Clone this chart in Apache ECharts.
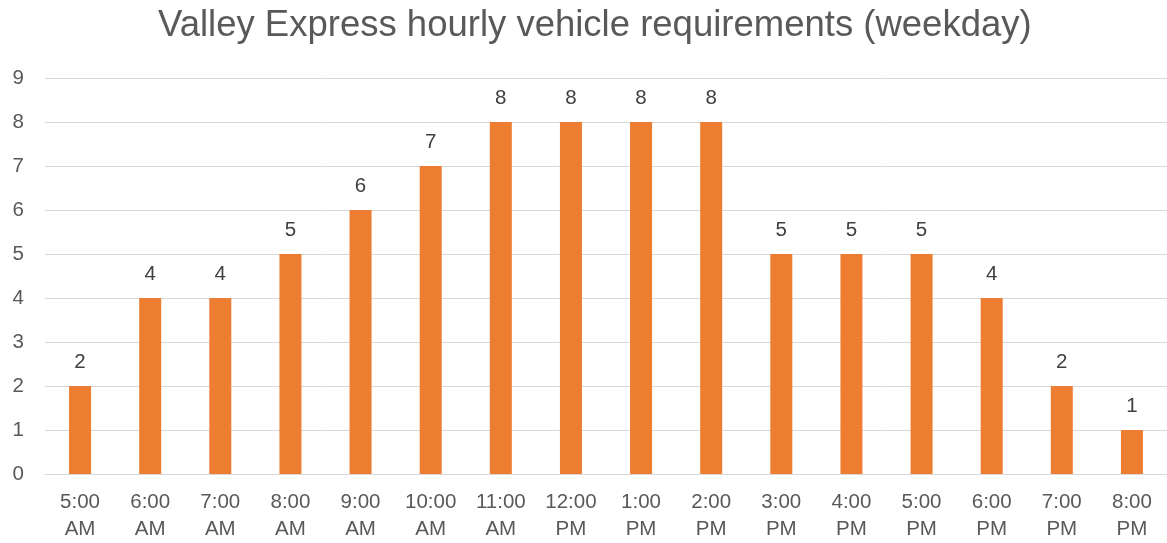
<!DOCTYPE html>
<html>
<head>
<meta charset="utf-8">
<script src="https://cdn.jsdelivr.net/npm/echarts@6/dist/echarts.min.js"></script>
<style>
  html, body { margin: 0; padding: 0; background: #fff; }
  #chart { width: 1167px; height: 543px; }
</style>
</head>
<body>
<div id="chart"></div>
<script>
// hours of the weekday and vehicles needed in each one
var hours = ['5:00\nAM', '6:00\nAM', '7:00\nAM', '8:00\nAM', '9:00\nAM', '10:00\nAM', '11:00\nAM', '12:00\nPM',
             '1:00\nPM', '2:00\nPM', '3:00\nPM', '4:00\nPM', '5:00\nPM', '6:00\nPM', '7:00\nPM', '8:00\nPM'];
var vehicles = [2, 4, 4, 5, 6, 7, 8, 8, 8, 8, 5, 5, 5, 4, 2, 1];

var font = 'Liberation Sans, Arial, sans-serif';
var myChart = echarts.init(document.getElementById('chart'));
myChart.setOption({
    animation: false,
    title: {
        text: 'Valley Express hourly vehicle requirements (weekday)',
        left: 153,
        top: 2,
        textStyle: { fontFamily: font, fontSize: 36.5, fontWeight: 'normal', color: '#595959' }
    },
    grid: { left: 45, right: 0, top: 78, bottom: 69 },
    xAxis: {
        type: 'category',
        data: hours,
        axisLine: { lineStyle: { color: '#d9d9d9' } },
        axisTick: { show: false },
        axisLabel: { fontFamily: font, fontSize: 20.5, color: '#595959', lineHeight: 27, margin: 15, interval: 0 }
    },
    yAxis: {
        type: 'value',
        min: 0,
        max: 9,
        interval: 1,
        axisLine: { show: false },
        axisTick: { show: false },
        splitLine: { lineStyle: { color: '#d9d9d9', width: 1 } },
        axisLabel: { fontFamily: font, fontSize: 20.5, color: '#595959', margin: 21 }
    },
    series: [{
        type: 'bar',
        data: vehicles,
        barWidth: 22,
        itemStyle: { color: '#ED7D31' },
        label: {
            show: true,
            position: 'top',
            distance: 13,
            fontFamily: font,
            fontSize: 20.5,
            color: '#404040'
        }
    }]
});
</script>
</body>
</html>
